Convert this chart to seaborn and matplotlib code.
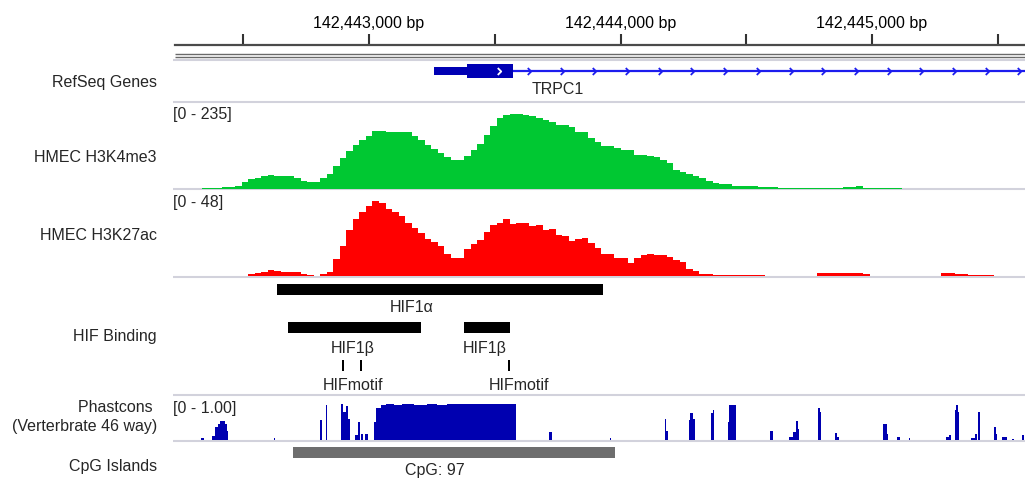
import numpy as np
import pandas as pd
import matplotlib
matplotlib.use("Agg")
import matplotlib.pyplot as plt
from matplotlib.path import Path
import seaborn as sns

# ---------------- data ----------------
ruler_ticks = [142442500, 142443000, 142443500, 142444000, 142444500, 142445000, 142445500]

bin_start = 142442260
bin_bp = 26
k4me3 = [0, 0, 0, 1, 1, 1, 3, 3, 7, 18,
         26, 30, 33, 37, 35, 35, 33, 28, 21, 17,
         18, 30, 39, 61, 83, 102, 119, 132, 145, 157,
         157, 155, 155, 154, 155, 145, 133, 120, 108, 97,
         86, 78, 78, 88, 105, 121, 146, 171, 193, 202,
         205, 205, 202, 199, 193, 187, 182, 175, 175, 168,
         156, 156, 139, 129, 118, 118, 110, 106, 106, 92,
         92, 88, 86, 78, 70, 52, 46, 39, 35, 30,
         21, 14, 11, 11, 7, 7, 7, 7, 5, 5,
         5, 2, 2, 1, 1, 1, 1, 1, 1, 1,
         1, 3, 3, 6, 2, 2, 2, 2, 2, 1,
         0, 0, 0, 0, 0, 0, 0, 0, 0, 0,
         0, 0, 0, 0, 0, 0, 0, 0, 0]
k27ac = [0, 0, 0, 0, 0, 0, 0, 0.2, 0.2, 0.2,
         1.0, 1.7, 2.5, 3.3, 2.9, 2.3, 2.3, 2.3, 1.0, 0.6,
         0, 1.1, 2.5, 9.7, 17.1, 25.7, 32.0, 36.1, 39.4, 42.4,
         41.3, 38.1, 36.1, 33.7, 29.9, 27.0, 24.2, 21.0, 19.4, 17.1,
         12.7, 9.9, 10.4, 15.2, 18.1, 20.6, 24.7, 28.6, 29.9, 32.4,
         29.5, 29.9, 29.9, 28.0, 28.6, 26.1, 26.7, 23.4, 22.8, 20.0,
         21.0, 21.5, 18.4, 15.8, 12.7, 12.4, 9.9, 9.9, 7.6, 10.4,
         11.8, 12.4, 11.8, 11.8, 10.8, 9.3, 8.0, 3.8, 2.9, 1.0,
         1.0, 0.6, 0.6, 0.6, 0.6, 0.6, 0.6, 0.6, 0.6, 0.2,
         0.2, 0.2, 0, 0, 0.2, 0.2, 0.2, 1.5, 1.5, 1.5,
         1.5, 1.5, 1.5, 1.5, 1.0, 0.2, 0.2, 0.2, 0.2, 0,
         0, 0.2, 0.2, 0.2, 0.2, 0.2, 1.7, 1.7, 0.9, 0.9,
         0.6, 0.6, 0.6, 0.6, 0, 0, 0, 0, 0]

phast_start = [142442333, 142442376, 142442389, 142442400, 142442409, 142442426, 142442435,
               142442621, 142442807, 142442828, 142442888, 142442898, 142442907, 142442918,
               142442944, 142442958, 142442968, 142442984,
               142443020, 142443030, 142443048, 142443069, 142443101, 142443133, 142443181,
               142443232, 142443272, 142443312, 142443355,
               142443717, 142443958, 142444175, 142444181, 142444271, 142444277, 142444290,
               142444360, 142444366, 142444426, 142444432, 142444595, 142444671, 142444684,
               142444698, 142444704, 142444786, 142444794, 142444853, 142444862, 142445044,
               142445061, 142445100, 142445147, 142445292, 142445305, 142445329, 142445335,
               142445343, 142445394, 142445409, 142445420, 142445484, 142445491, 142445517,
               142445557, 142445596]
phast_end = [142442345, 142442389, 142442400, 142442409, 142442426, 142442435, 142442441,
             142442627, 142442814, 142442835, 142442898, 142442907, 142442918, 142442925,
             142442955, 142442964, 142442977, 142442995,
             142443030, 142443048, 142443067, 142443099, 142443131, 142443179, 142443230,
             142443270, 142443310, 142443353, 142443586,
             142443727, 142443964, 142444181, 142444188, 142444277, 142444290, 142444298,
             142444366, 142444373, 142444432, 142444459, 142444607, 142444684, 142444698,
             142444704, 142444710, 142444794, 142444799, 142444862, 142444869, 142445061,
             142445065, 142445110, 142445151, 142445305, 142445312, 142445335, 142445343,
             142445346, 142445409, 142445418, 142445431, 142445491, 142445497, 142445537,
             142445563, 142445603]
phast_score = [0.03, 0.10, 0.35, 0.45, 0.51, 0.45, 0.25,
               0.05, 0.54, 0.96, 1.00, 0.78, 0.93, 0.59,
               0.12, 0.49, 0.15, 0.15,
               0.49, 0.88, 0.97, 0.99, 0.96, 1.00, 0.98,
               0.99, 0.97, 1.00, 1.00,
               0.22, 0.03, 0.59, 0.25, 0.54, 0.74, 0.59,
               0.74, 0.83, 0.49, 0.96, 0.23, 0.08, 0.20,
               0.51, 0.29, 0.88, 0.78, 0.17, 0.08, 0.44,
               0.15, 0.08, 0.03, 0.08, 0.12, 0.83, 0.96,
               0.78, 0.05, 0.15, 0.78, 0.34, 0.15, 0.07,
               0.02, 0.12]

gene_name = "TRPC1"
gene_tx_start = 142443258
gene_cds_start = 142443389
gene_exon1_end = 142443573

hif_names = ["HIF1α", "HIF1β", "HIF1β", "HIFmotif", "HIFmotif", "HIFmotif"]
hif_start = [142442635, 142442679, 142443379, 142442891, 142442964, 142443553]
hif_end = [142443932, 142443206, 142443561, 142442899, 142442972, 142443561]

cpg_name = "CpG: 97"
cpg_start = 142442699
cpg_end = 142443980

track_names = ["RefSeq Genes", "HMEC H3K4me3", "HMEC H3K27ac", "HIF Binding",
               "Phastcons ", "(Verterbrate 46 way)", "CpG Islands"]
ranges = ["[0 - 235]", "[0 - 48]", "[0 - 1.00]"]

# ---------------- style / layout ----------------
sns.set_theme(style="white")
plt.rcParams['font.family'] = ['Liberation Sans', 'DejaVu Sans']
FS = 11.5
W, H = 1025, 479
XMIN, XMAX = 142442229, 142445608

fig = plt.figure(figsize=(W / 100, H / 100), dpi=100)
fig.patch.set_facecolor("white")


def px_axes(top, bottom, left=175, right=1025):
    ax = fig.add_axes([left / W, 1 - bottom / H, (right - left) / W, (bottom - top) / H])
    ax.set_facecolor("none")
    return ax


# feature / frame layer (pixel rows on y, bp on x)
feat = px_axes(0, H)
feat.set_xlim(XMIN, XMAX)
feat.set_ylim(H, 0)
feat.axis("off")

# ruler
ruler = px_axes(33, 45)
ruler.set_xlim(XMIN, XMAX)
ruler.set_ylim(0, 1)
for s in ["left", "right", "top"]:
    ruler.spines[s].set_visible(False)
ruler.spines["bottom"].set_color("#4a4a4a")
ruler.spines["bottom"].set_linewidth(1.6)
ruler.set_yticks([])
ruler.set_xticks(ruler_ticks)
ruler.set_xticklabels([f"{t:,} bp" if t % 1000 == 0 else "" for t in ruler_ticks])
ruler.tick_params(axis="x", direction="in", length=8, width=1.5, color="#333333",
                  bottom=True, top=False, labelbottom=False, labeltop=True,
                  pad=1.5, labelsize=FS, labelcolor="black")

# frame lines
feat.hlines([53.5, 56.5], XMIN, XMAX, color="#6a6a6a", lw=1.0)
feat.hlines([60, 102, 189, 276.5, 395, 440.5], XMIN - 8, XMAX, color="#d2d2dc",
            lw=1.5, clip_on=False)

# gene track
gene_y = 71
gene_dark = "#0000B4"
gene_line = "#1C1CEE"
feat.plot([gene_exon1_end, XMAX], [gene_y, gene_y], color=gene_line, lw=1.6, solid_capstyle="butt")
feat.barh(gene_y, gene_cds_start - gene_tx_start, left=gene_tx_start, height=8,
          color=gene_dark, linewidth=0)
feat.barh(gene_y, gene_exon1_end - gene_cds_start, left=gene_cds_start, height=14,
          color=gene_dark, linewidth=0)
chev = Path([(-0.5, 1), (0.5, 0), (-0.5, -1)], [Path.MOVETO, Path.LINETO, Path.LINETO])
chev_x = np.arange(gene_exon1_end + 63, XMAX, 130)
feat.plot(chev_x, [gene_y] * len(chev_x), ls="none", marker=chev, ms=5, mfc="none",
          mec=gene_line, mew=1.3)
feat.plot([gene_cds_start + 128], [gene_y], ls="none", marker=chev, ms=5, mfc="none",
          mec="white", mew=1.3)
feat.text(142443750, 89, gene_name, ha="center", va="center", fontsize=FS)

# signal tracks
edges = [bin_start + bin_bp * i for i in range(len(k4me3) + 1)]
centers = [e + bin_bp / 2 for e in edges[:-1]]
sig = pd.DataFrame({"pos": centers, "k4me3": k4me3, "k27ac": k27ac})

ax_k4 = px_axes(103, 188.5)
sns.histplot(data=sig, x="pos", weights="k4me3", bins=edges, element="step", fill=True,
             color="#00C832", alpha=1, linewidth=0, ax=ax_k4)
ax_k4.set_xlim(XMIN, XMAX)
ax_k4.set_ylim(0, 235)
ax_k4.axis("off")

ax_k27 = px_axes(191, 276)
sns.histplot(data=sig, x="pos", weights="k27ac", bins=edges, element="step", fill=True,
             color="#FF0000", alpha=1, linewidth=0, ax=ax_k27)
ax_k27.set_xlim(XMIN, XMAX)
ax_k27.set_ylim(0, 48)
ax_k27.axis("off")

ax_ph = px_axes(404, 439.5)
ax_ph.bar(phast_start, phast_score,
          width=np.array(phast_end) - np.array(phast_start),
          align="edge", color="#0000B0", linewidth=0)
ax_ph.set_xlim(XMIN, XMAX)
ax_ph.set_ylim(0, 1)
ax_ph.axis("off")

# HIF binding features
row_y = {"HIF1α": 289.5, "HIF1β": 327, "HIFmotif": 365}
row_h = {"HIF1α": 11, "HIF1β": 11, "HIFmotif": 11}
for n, s, e in zip(hif_names, hif_start, hif_end):
    feat.barh(row_y[n], e - s, left=s, height=row_h[n], color="black", linewidth=0)
hif_labels = [("HIF1α", 142443171, 307.5), ("HIF1β", 142442936, 348.5),
              ("HIF1β", 142443461, 348.5), ("HIFmotif", 142442936, 385.5),
              ("HIFmotif", 142443598, 385.5)]
for t, x, y in hif_labels:
    feat.text(x, y, t, ha="center", va="center", fontsize=FS)

# CpG island
feat.barh(452, cpg_end - cpg_start, left=cpg_start, height=11, color="#6E6E6E", linewidth=0)
feat.text(142443261, 471, cpg_name, ha="center", va="center", fontsize=FS)

# data range labels
for t, y in zip(ranges, [115, 203, 408]):
    fig.text(173 / W, 1 - y / H, t, ha="left", va="center", fontsize=FS)

# track names
name_y = [83, 157, 235, 337, 408, 427, 466]
for t, y in zip(track_names, name_y):
    fig.text(157 / W, 1 - y / H, t, ha="right", va="center", fontsize=FS)

fig.savefig("out.png", dpi=100, facecolor="white")
